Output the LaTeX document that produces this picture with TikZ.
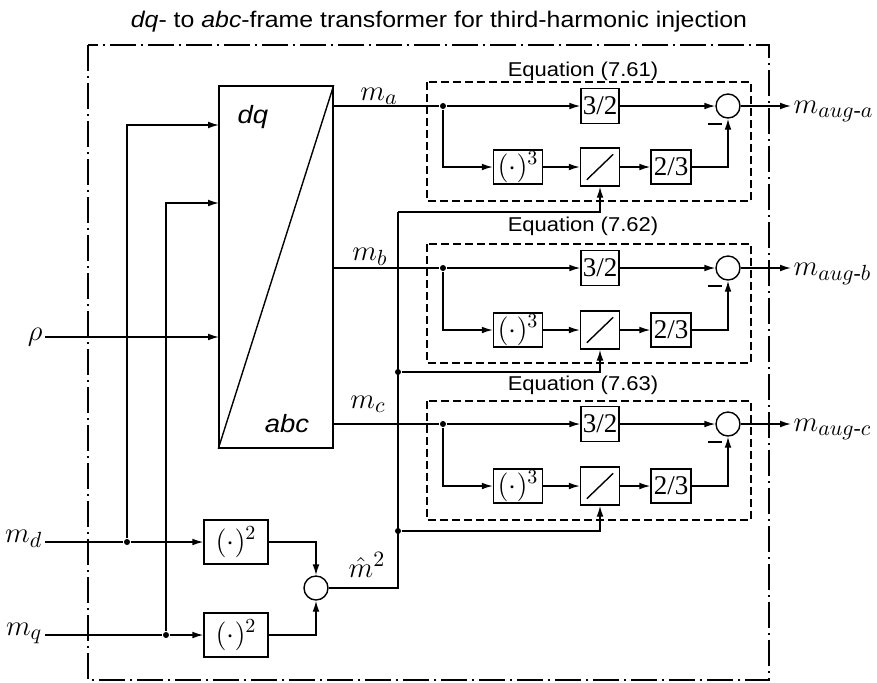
\documentclass[tikz,border=0pt]{standalone}
\usepackage{amsmath}
\usepackage{fontspec}
\setmainfont{Liberation Serif}
\setsansfont{Liberation Sans}[FakeStretch=1.1]
\usetikzlibrary{arrows.meta}
\begin{document}
\begin{tikzpicture}[x=0.5pt,y=-0.5pt,line width=0.7pt,
  >={Latex[length=5.5pt,width=3.4pt]},
  blk/.style={draw,inner sep=0pt,minimum width=19pt,minimum height=17.5pt,font=\fontsize{13.5}{13.5}\selectfont},
  sum/.style={draw,circle,inner sep=0pt,minimum size=12pt},
  jdot/.style={circle,fill,inner sep=0pt,minimum size=3pt},
  var/.style={inner sep=1pt,font=\fontsize{15.5}{15.5}\selectfont},
  eqlbl/.style={font=\sffamily\fontsize{10}{10}\selectfont},
  eqbox/.style={dash pattern=on 4pt off 2pt},
  dashdotbox/.style={dash pattern=on 13pt off 2.7pt on 0.6pt off 2.7pt}]
  \useasboundingbox (0,0) rectangle (877,682);
  \node[font=\sffamily\fontsize{11.3}{12}\selectfont,anchor=base] (title) at (439,27) {\textit{dq}- to \textit{abc}-frame transformer for third-harmonic injection};
  \draw[dashdotbox] (88,45) rectangle (769,680);
  % dq/abc block
  \node[draw,inner sep=0pt,minimum width=57pt,minimum height=181pt] (tf) at (276,267) {};
  \draw (tf.south west) -- (tf.north east);
  \node[font=\sffamily\fontsize{12.5}{12.5}\selectfont,anchor=base] (dqlbl) at (253,123) {\textit{dq}};
  \node[font=\sffamily\fontsize{12.5}{12.5}\selectfont,anchor=base] (abclbl) at (287,432) {\textit{abc}};
  \coordinate (in1) at (219,125);
  \coordinate (in2) at (219,203);
  \coordinate (in3) at (219,337);
  % inputs
  \node[var,anchor=base east] (md) at (45,542) {$m_d$};
  \node[var,anchor=base east] (mq) at (45,635) {$m_q$};
  \node[var,anchor=east] (rho) at (45,337) {$\rho$};
  \node[jdot] (jd) at (127,542) {};
  \node[jdot] (jq) at (166,635) {};
  \node[blk,minimum width=32pt,minimum height=22pt,font=\fontsize{14}{14}\selectfont] (sqd) at (236,542) {$(\cdot)^2$};
  \node[blk,minimum width=32pt,minimum height=22pt,font=\fontsize{14}{14}\selectfont] (sqq) at (236,635) {$(\cdot)^2$};
  \node[sum] (sumsq) at (316,588) {};
  \node[var,anchor=base] (mhat) at (367,577) {$\hat{m}^2$};
  \draw (md.base east) -- (jd);
  \draw (mq.base east) -- (jq);
  \draw[->] (jd) -- (sqd);
  \draw[->] (jq) -- (sqq);
  \draw[->] (jd) |- (in1);
  \draw[->] (jq) |- (in2);
  \draw[->] (rho) -- (in3);
  \draw[->] (sqd) -| (sumsq);
  \draw[->] (sqq) -| (sumsq);
  \coordinate (tapA) at (398,212);
  \node[jdot] (tapB) at (398,372) {};
  \node[jdot] (tapC) at (398,531) {};
  \draw (sumsq) -| (tapA);
  % Equation (7.61)
  \draw[eqbox] (427,82) rectangle (751,201);
  \node[eqlbl,anchor=base] (eqA) at (583,76) {Equation (7.61)};
  \node[var,anchor=base] (maL) at (379,100) {$m_a$};
  \node[jdot] (jA) at (443,106) {};
  \node[blk] (gA) at (600,106) {3/2};
  \node[sum] (sA) at (728,106) {};
  \node[blk,minimum width=24.5pt,minimum height=17pt,font=\fontsize{14}{14}\selectfont] (cA) at (518,167) {$(\cdot)^3$};
  \node[blk,minimum width=19.5pt,minimum height=19pt] (slA) at (600,167) {};
  \node[blk,minimum width=20pt,minimum height=17pt] (hA) at (671,167) {2/3};
  \node[var,anchor=base west] (oA) at (791,113) {$m_{aug\text{-}a}$};
  \draw ([shift={(7,-7)}]slA.south west) -- ([shift={(-7,7)}]slA.north east);
  \draw (tf.east |- jA) -- (jA);
  \draw[->] (jA) -- (gA);
  \draw[->] (gA) -- (sA);
  \draw[->] (jA) |- (cA);
  \draw[->] (cA) -- (slA);
  \draw[->] (slA) -- (hA);
  \draw[->] (hA) -| (sA);
  \draw[->] (sA) -- (oA.west |- sA);
  \draw[->] (tapA) -| (slA);
  \draw[line width=1.2pt] (708,124) -- (722,124);
  % Equation (7.62)
  \draw[eqbox] (427,244) rectangle (751,363);
  \node[eqlbl,anchor=base] (eqB) at (583,231) {Equation (7.62)};
  \node[var,anchor=base] (mbL) at (370,260) {$m_b$};
  \node[jdot] (jB) at (443,268) {};
  \node[blk] (gB) at (600,268) {3/2};
  \node[sum] (sB) at (728,268) {};
  \node[blk,minimum width=24.5pt,minimum height=17pt,font=\fontsize{14}{14}\selectfont] (cB) at (518,330) {$(\cdot)^3$};
  \node[blk,minimum width=19.5pt,minimum height=19pt] (slB) at (600,330) {};
  \node[blk,minimum width=20pt,minimum height=17pt] (hB) at (671,330) {2/3};
  \node[var,anchor=base west] (oB) at (791,275) {$m_{aug\text{-}b}$};
  \draw ([shift={(7,-7)}]slB.south west) -- ([shift={(-7,7)}]slB.north east);
  \draw (tf.east |- jB) -- (jB);
  \draw[->] (jB) -- (gB);
  \draw[->] (gB) -- (sB);
  \draw[->] (jB) |- (cB);
  \draw[->] (cB) -- (slB);
  \draw[->] (slB) -- (hB);
  \draw[->] (hB) -| (sB);
  \draw[->] (sB) -- (oB.west |- sB);
  \draw[->] (tapB) -| (slB);
  \draw[line width=1.2pt] (708,286) -- (722,286);
  % Equation (7.63)
  \draw[eqbox] (427,401) rectangle (751,520);
  \node[eqlbl,anchor=base] (eqC) at (583,390) {Equation (7.63)};
  \node[var,anchor=base] (mcL) at (368,408) {$m_c$};
  \node[jdot] (jC) at (443,424) {};
  \node[blk] (gC) at (600,424) {3/2};
  \node[sum] (sC) at (728,424) {};
  \node[blk,minimum width=24.5pt,minimum height=17pt,font=\fontsize{14}{14}\selectfont] (cC) at (518,486) {$(\cdot)^3$};
  \node[blk,minimum width=19.5pt,minimum height=19pt] (slC) at (600,486) {};
  \node[blk,minimum width=20pt,minimum height=17pt] (hC) at (671,486) {2/3};
  \node[var,anchor=base west] (oC) at (791,431) {$m_{aug\text{-}c}$};
  \draw ([shift={(7,-7)}]slC.south west) -- ([shift={(-7,7)}]slC.north east);
  \draw (tf.east |- jC) -- (jC);
  \draw[->] (jC) -- (gC);
  \draw[->] (gC) -- (sC);
  \draw[->] (jC) |- (cC);
  \draw[->] (cC) -- (slC);
  \draw[->] (slC) -- (hC);
  \draw[->] (hC) -| (sC);
  \draw[->] (sC) -- (oC.west |- sC);
  \draw[->] (tapC) -| (slC);
  \draw[line width=1.2pt] (708,442) -- (722,442);
\end{tikzpicture}
\end{document}
